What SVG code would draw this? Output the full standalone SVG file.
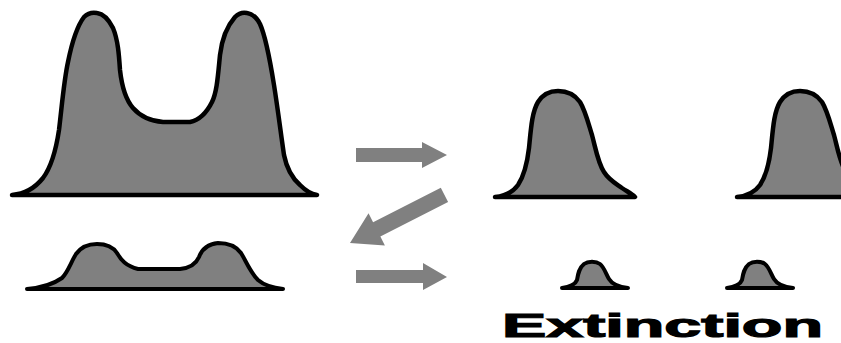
<svg xmlns="http://www.w3.org/2000/svg" width="841" height="343" viewBox="0 0 841 343">
<style>
.dist{fill:#808080;stroke:#000;stroke-width:4.5;stroke-linejoin:round;stroke-linecap:round}
.small{stroke-width:4}
.arrow{fill:#808080;stroke:none}
.label{font-family:"Liberation Sans",Arial,sans-serif;font-weight:bold;font-size:34px;fill:#000;stroke:#000;stroke-width:1.2}
</style>
<rect width="841" height="343" fill="#fff"/>
<defs>
<path id="uni" d="M495,197 C505,196 513,192 518,185 C524,176 527,165 529,148 C531,128 532,112 538,102 C543,94 550,91 558,91 C568,91 575,95 580,102 C585,110 588,122 592,135 C596,150 598,163 604,172 C609,180 615,183 622,188 C628,192 632,194 635,197 Z"/>
<path id="tiny" d="M562,288 C570,287 575,285 577,280 C578,274 579,268 584,264 C588,261 596,261 600,264 C604,267 606,274 609,279 C612,284 618,287 628,288 Z"/>
</defs>
<g id="big-bimodal">
<path class="dist" d="M12,195 C25,194 35,188 43,178 C52,166 56,150 59,130 C62,105 64,80 68,62 C72,42 78,25 84,17 C88,13 92,12 97,13 C104,14 109,20 113,28 C118,40 119,55 120,70 C122,88 126,100 133,108 C140,116 150,121 163,122 L190,122 C200,120 207,112 212,102 C217,92 218,75 220,55 C222,38 228,25 235,17 C239,13 243,12 247,13 C253,14 257,18 260,24 C265,35 270,60 274,85 C278,110 281,135 284,155 C287,170 292,178 300,185 C306,191 311,194 317,195 Z"/>
</g>
<g id="small-bimodal">
<path class="dist small" d="M27,289 C40,288 52,285 62,278 C68,272 71,262 76,254 C81,247 88,244 97,244 C106,244 113,247 117,253 C121,260 126,266 138,269 L180,269 C190,268 196,264 199,257 C202,249 208,244 218,243 C228,243 236,246 241,253 C246,261 250,272 258,280 C265,286 274,288 283,289 Z"/>
</g>
<g id="uni-left"><use href="#uni" class="dist"/></g>
<g id="uni-right"><use href="#uni" class="dist" transform="translate(242,0)"/></g>
<g id="tiny-left"><use href="#tiny" class="dist small"/></g>
<g id="tiny-right"><use href="#tiny" class="dist small" transform="translate(165,0)"/></g>
<g id="connectors">
<polygon class="arrow" points="356,148 422,148 422,142 447,155 422,168 422,162 356,162"/>
<polygon class="arrow" transform="translate(350,243) rotate(153)" points="0,0 -30,-18 -30,-8 -106,-8 -106,8 -30,8 -30,18"/>
<polygon class="arrow" points="356,270 423,270 423,263 447,277 423,290 423,283 356,283"/>
</g>
<g id="label">
<text class="label" x="502" y="337" textLength="321" lengthAdjust="spacingAndGlyphs">Extinction</text>
</g>
</svg>
